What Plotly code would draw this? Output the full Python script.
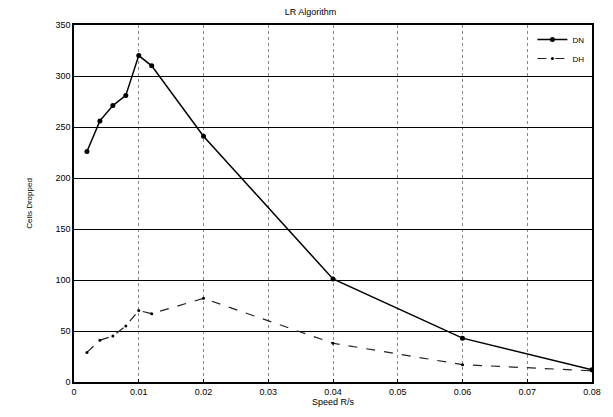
import plotly.graph_objects as go

speed = [0.002, 0.004, 0.006, 0.008, 0.010, 0.012, 0.020, 0.040, 0.060, 0.080]
dn_cells = [226, 256, 271, 281, 320, 310, 241, 101, 43, 12]
dh_cells = [29, 41, 45, 55, 70, 67, 82, 38, 17, 11]

x_ticks = [0, 0.01, 0.02, 0.03, 0.04, 0.05, 0.06, 0.07, 0.08]
x_labels = ['0', '0.01', '0.02', '0.03', '0.04', '0.05', '0.06', '0.07', '0.08']
y_ticks = [0, 50, 100, 150, 200, 250, 300, 350]

fig = go.Figure()
fig.add_trace(go.Scatter(x=speed, y=dn_cells,
                         mode='lines+markers',
                         line=dict(color='black', width=1.5),
                         marker=dict(color='black', size=5),
                         name='DN'))
fig.add_trace(go.Scatter(x=speed, y=dh_cells,
                         mode='lines+markers',
                         line=dict(color='#222222', width=1.2, dash='dash'),
                         marker=dict(color='black', size=3),
                         name='DH'))

# page has an 8px body margin, so the figure is a bit smaller than the window
fig.update_layout(
    width=605, height=409,
    margin=dict(l=66, r=15, t=14, b=35),
    paper_bgcolor='white', plot_bgcolor='white',
    font=dict(family='Liberation Sans, Arial, sans-serif', size=9, color='black'),
    title=dict(text='LR Algorithm', x=0.5, xanchor='center', y=0.998, yanchor='top',
               font=dict(size=9)),
    showlegend=True,
    legend=dict(x=0.995, y=1.0, xanchor='right', yanchor='top',
                bgcolor='rgba(0,0,0,0)', font=dict(size=8),
                tracegroupgap=0, itemwidth=30),
    xaxis=dict(range=[0, 0.08], tickvals=x_ticks, ticktext=x_labels,
               showgrid=True, gridcolor='#888888', griddash='dot', gridwidth=1,
               showline=True, linecolor='black', linewidth=1.5, mirror=True,
               ticks='inside', ticklen=3, tickcolor='black',
               zeroline=False,
               title=dict(text='Speed R/s', standoff=2, font=dict(size=9))),
    yaxis=dict(range=[0, 350], tickvals=y_ticks,
               showgrid=True, gridcolor='black', gridwidth=1.2,
               showline=True, linecolor='black', linewidth=1.5, mirror=True,
               ticks='inside', ticklen=3, tickcolor='black',
               zeroline=False,
               title=dict(text='Cells Dropped', standoff=22, font=dict(size=8))),
)

fig.write_html("out.html")
